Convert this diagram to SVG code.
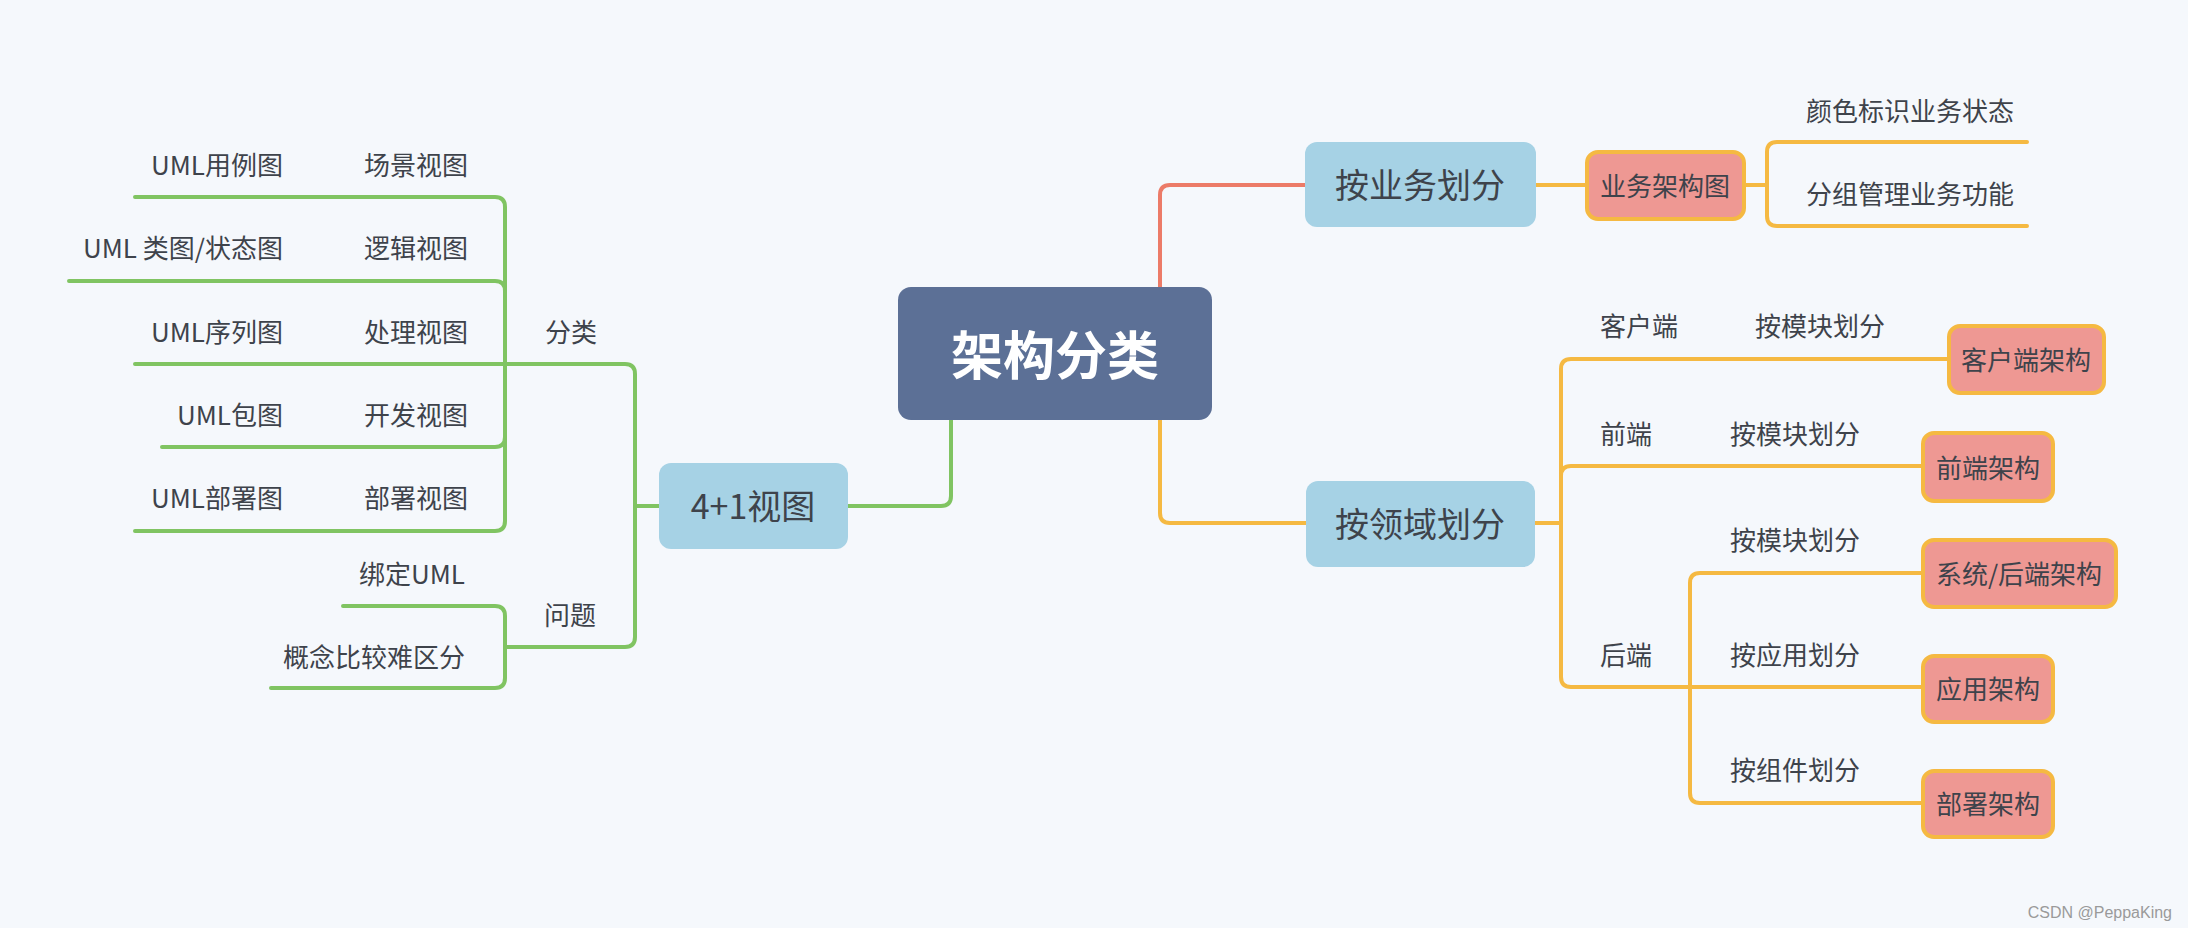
<svg xmlns="http://www.w3.org/2000/svg" width="2188" height="928" viewBox="0 0 2188 928">
<style>
text{font-family:"Noto Sans CJK SC","Noto Sans",sans-serif;fill:#3e434b;dominant-baseline:central}
.s{font-size:26px}
.m{font-size:34px;text-anchor:middle}
.c{font-size:52px;font-weight:bold;fill:#ffffff;text-anchor:middle}
.p{font-size:26px;text-anchor:middle}
.e{text-anchor:end}
.blue{fill:#a6d2e5}
.pink{fill:#ee9893;stroke:#f5b942;stroke-width:4}
.g{fill:none;stroke:#80c462;stroke-width:4;stroke-linecap:round}
.o{fill:none;stroke:#f5b942;stroke-width:4;stroke-linecap:round}
.r{fill:none;stroke:#ec7b68;stroke-width:4;stroke-linecap:round}
</style>
<rect width="2188" height="928" fill="#f5f8fc"/>
<g id="connectors">
<path class="r" d="M1160 287V195Q1160 185 1170 185H1305"/>
<path class="g" d="M951 419V496Q951 506 941 506H848"/>
<path class="g" d="M659 506H635"/>
<path class="g" d="M635 506V374Q635 364 625 364H135"/>
<path class="g" d="M635 506V637Q635 647 625 647H505"/>
<path class="g" d="M505 364V207Q505 197 495 197H135"/>
<path class="g" d="M505 291Q505 281 495 281H69"/>
<path class="g" d="M505 364V521Q505 531 495 531H135"/>
<path class="g" d="M505 437Q505 447 495 447H162"/>
<path class="g" d="M505 647V616Q505 606 495 606H343"/>
<path class="g" d="M505 647V678Q505 688 495 688H271"/>
<path class="o" d="M1536 185H1587"/>
<path class="o" d="M1744 185H1767"/>
<path class="o" d="M1767 185V152Q1767 142 1777 142H2027"/>
<path class="o" d="M1767 185V216Q1767 226 1777 226H2027"/>
<path class="o" d="M1160 420V513Q1160 523 1170 523H1306"/>
<path class="o" d="M1535 523H1561"/>
<path class="o" d="M1561 523V369Q1561 359 1571 359H1949"/>
<path class="o" d="M1561 476Q1561 466 1571 466H1923"/>
<path class="o" d="M1561 523V677Q1561 687 1571 687H1923"/>
<path class="o" d="M1690 687V583Q1690 573 1700 573H1923"/>
<path class="o" d="M1690 687V793Q1690 803 1700 803H1923"/>
</g>
<g id="root"><rect x="898" y="287" width="314" height="133" rx="13" fill="#5c7096"/><text class="c" x="1055" y="352">架构分类</text></g>
<g id="n41"><rect class="blue" x="659" y="463" width="189" height="86" rx="12"/><text class="m" x="753" y="504">4+1视图</text></g>
<g id="fenlei"><text class="s" x="545" y="330">分类</text></g>
<g id="wenti"><text class="s" x="544" y="613">问题</text></g>
<g id="v1"><text class="s" x="364" y="163">场景视图</text></g>
<g id="v1c"><text class="s e" x="283" y="163">UML用例图</text></g>
<g id="v2"><text class="s" x="364" y="246">逻辑视图</text></g>
<g id="v2c"><text class="s e" x="283" y="246">UML 类图/状态图</text></g>
<g id="v3"><text class="s" x="364" y="330">处理视图</text></g>
<g id="v3c"><text class="s e" x="283" y="330">UML序列图</text></g>
<g id="v4"><text class="s" x="364" y="413">开发视图</text></g>
<g id="v4c"><text class="s e" x="283" y="413">UML包图</text></g>
<g id="v5"><text class="s" x="364" y="496">部署视图</text></g>
<g id="v5c"><text class="s e" x="283" y="496">UML部署图</text></g>
<g id="q1"><text class="s e" x="465" y="572">绑定UML</text></g>
<g id="q2"><text class="s e" x="465" y="655">概念比较难区分</text></g>
<g id="biz"><rect class="blue" x="1305" y="142" width="231" height="85" rx="12"/><text class="m" x="1420" y="183">按业务划分</text></g>
<g id="bizarch"><rect class="pink" x="1587" y="152" width="157" height="67" rx="11"/><text class="p" x="1665" y="184">业务架构图</text></g>
<g id="b1"><text class="s" x="1806" y="109">颜色标识业务状态</text></g>
<g id="b2"><text class="s" x="1806" y="192">分组管理业务功能</text></g>
<g id="domain"><rect class="blue" x="1306" y="481" width="229" height="86" rx="12"/><text class="m" x="1420" y="522">按领域划分</text></g>
<g id="client"><text class="s" x="1600" y="324">客户端</text></g>
<g id="clientmod"><text class="s" x="1755" y="324">按模块划分</text></g>
<g id="clientarch"><rect class="pink" x="1949" y="326" width="155" height="67" rx="11"/><text class="p" x="2026" y="358">客户端架构</text></g>
<g id="front"><text class="s" x="1600" y="432">前端</text></g>
<g id="frontmod"><text class="s" x="1730" y="432">按模块划分</text></g>
<g id="frontarch"><rect class="pink" x="1923" y="433" width="130" height="68" rx="11"/><text class="p" x="1988" y="466">前端架构</text></g>
<g id="back"><text class="s" x="1600" y="653">后端</text></g>
<g id="backmod"><text class="s" x="1730" y="538">按模块划分</text></g>
<g id="sysarch"><rect class="pink" x="1923" y="540" width="193" height="67" rx="11"/><text class="p" x="2019" y="572">系统/后端架构</text></g>
<g id="backapp"><text class="s" x="1730" y="653">按应用划分</text></g>
<g id="apparch"><rect class="pink" x="1923" y="656" width="130" height="66" rx="11"/><text class="p" x="1988" y="687">应用架构</text></g>
<g id="backcomp"><text class="s" x="1730" y="768">按组件划分</text></g>
<g id="deparch"><rect class="pink" x="1923" y="771" width="130" height="66" rx="11"/><text class="p" x="1988" y="802">部署架构</text></g>
<text x="2172" y="912" style="font-family:'Liberation Sans',Arial,sans-serif;font-size:16px;fill:#9a9a9a;text-anchor:end">CSDN @PeppaKing</text>
</svg>
